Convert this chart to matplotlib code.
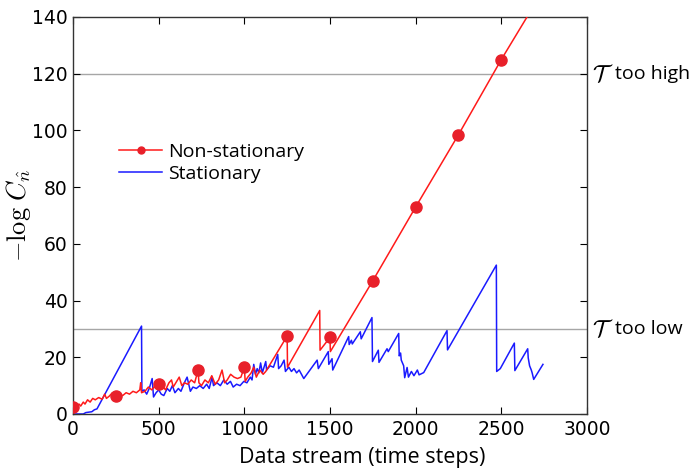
import numpy as np
import matplotlib
matplotlib.use("Agg")
import matplotlib.pyplot as plt

# ---- data ----
red_t = [0, 5, 20, 35, 45, 60, 70, 85, 100, 115, 130, 150, 170, 185, 195, 210, 230, 250,
         270, 290, 310, 330, 350, 370, 390, 395, 400, 420, 440, 460, 480, 500, 505, 520,
         540, 560, 575, 585, 600, 620, 635, 650, 670, 690, 710, 730, 735, 750, 770, 790,
         810, 830, 850, 870, 885, 900, 920, 940, 960, 980, 1000, 1005, 1020, 1040, 1055,
         1070, 1090, 1110, 1125, 1250, 1252, 1440, 1442, 1500, 1502, 1750, 2000, 2250,
         2500, 2660]
red_v = [2.5, 1.5, 2.5, 3.5, 2.8, 4.2, 3.5, 5.0, 4.2, 5.5, 5.0, 5.8, 5.2, 7.0, 5.5, 6.2, 7.5, 6.5,
         7.0, 6.5, 7.5, 7.0, 8.0, 7.5, 8.5, 11.0, 7.5, 8.0, 9.5, 8.5, 10.0, 10.5, 9.0, 10.0,
         8.5, 11.0, 12.0, 9.5, 11.0, 13.0, 10.0, 11.0, 10.5, 12.0, 11.0, 15.5, 11.0, 10.0, 12.0, 11.0,
         13.5, 10.5, 12.0, 15.5, 11.0, 12.0, 14.0, 13.0, 12.5, 13.0, 16.5, 11.5, 13.0, 14.5, 16.5,
         13.0, 15.5, 14.0, 15.0, 27.5, 16.5, 36.5, 22.5, 27.0, 22.0, 47.0, 73.0, 98.5,
         125.0, 141.0]
marker_t = [0, 250, 500, 730, 1000, 1250, 1500, 1750, 2000, 2250, 2500]

blue_t = [0, 60, 75, 110, 125, 140, 400, 402, 415, 430, 445, 462, 470, 485, 500, 515, 530,
          550, 565, 580, 595, 615, 630, 650, 666, 685, 700, 720, 740, 760, 780, 795, 812,
          820, 840, 860, 880, 900, 919, 935, 955, 975, 997, 1015, 1035, 1045, 1055, 1065,
          1075, 1085, 1095, 1105, 1125, 1130, 1150, 1170, 1195, 1200, 1215, 1232, 1240,
          1260, 1275, 1290, 1305, 1320, 1347, 1425, 1432, 1490, 1493, 1512, 1516, 1609,
          1612, 1625, 1630, 1677, 1682, 1745, 1748, 1782, 1786, 1833, 1840, 1901, 1904,
          1912, 1916, 1930, 1936, 1950, 1958, 1975, 1990, 2010, 2020, 2047, 2183, 2186,
          2471, 2473, 2494, 2576, 2579, 2654, 2657, 2665, 2675, 2680, 2689, 2743]
blue_v = [0.0, 0.0, 0.5, 0.8, 1.5, 1.8, 31.0, 8.0, 8.5, 7.0, 9.0, 12.5, 6.0, 7.5, 8.5, 7.0, 6.5,
          9.0, 8.0, 10.0, 7.5, 9.0, 8.0, 11.0, 13.0, 8.0, 9.5, 9.0, 10.0, 9.0, 10.5, 9.0, 13.0,
          10.0, 11.0, 10.0, 12.0, 10.5, 11.5, 9.5, 10.5, 10.0, 11.5, 11.0, 13.0, 12.0, 17.5, 14.0,
          16.0, 14.5, 18.0, 14.5, 18.5, 15.5, 17.0, 16.5, 21.0, 16.0, 17.0, 19.0, 15.0,
          16.5, 15.0, 16.0, 14.5, 15.5, 12.5, 19.0, 16.0, 22.0, 17.5, 19.5, 15.5, 27.3,
          24.5, 26.0, 24.7, 29.0, 26.5, 34.0, 18.5, 22.5, 18.2, 23.0, 22.0, 28.4, 20.5,
          21.5, 19.0, 17.0, 12.8, 16.4, 13.0, 15.0, 13.5, 15.5, 13.8, 14.6, 29.4, 22.6,
          52.5, 15.0, 16.0, 25.0, 15.3, 23.0, 19.8, 17.0, 15.5, 14.5, 12.2, 17.5]

thresholds = [120, 30]
threshold_words = ["too high", "too low"]

# ---- figure ----
plt.rcParams['mathtext.fontset'] = 'cm'
fig = plt.figure(figsize=(6.9, 4.72), dpi=100)
ax = fig.add_axes([0.1058, 0.1229, 0.7449, 0.8411])

for th in thresholds:
    ax.axhline(th, color='#a6a6a6', lw=1.0, zorder=1)

red_t_arr = np.array(red_t)
mk_idx = [int(np.argmin(np.abs(red_t_arr - m))) for m in marker_t]

ax.plot(red_t, red_v, color='#ff1a1a', lw=1.1, marker='o', markersize=8,
        markevery=mk_idx, markerfacecolor='#e8202a', markeredgecolor='#e8202a',
        label='Non-stationary', zorder=3)
ax.plot(blue_t, blue_v, color='#1a1aff', lw=1.1, label='Stationary', zorder=2)

ax.set_xlim(0, 3000)
ax.set_ylim(0, 140)
ax.set_xticks([0, 500, 1000, 1500, 2000, 2500, 3000])
ax.set_yticks([0, 20, 40, 60, 80, 100, 120, 140])
ax.tick_params(direction='in', top=True, right=True, length=5, width=0.8,
               labelsize=13.5, pad=4)
for sp in ax.spines.values():
    sp.set_color('#333333')
    sp.set_linewidth(1.0)

ax.set_xlabel('Data stream (time steps)', fontsize=15.5, family='Open Sans')
ax.xaxis.set_label_coords(0.562, -0.082)
ax.set_ylabel(r'$-\log\,C_{\hat{n}}$', fontsize=19)
ax.yaxis.set_label_coords(-0.078, 0.5)

for th, word in zip(thresholds, threshold_words):
    ax.text(1.01, th, r"$\mathcal{T}$", transform=ax.get_yaxis_transform(), fontsize=17,
            va='center', ha='left')
    ax.text(1.055, th, word, transform=ax.get_yaxis_transform(), fontsize=14,
            family='Open Sans', va='center', ha='left')

leg = ax.legend(loc='upper left', bbox_to_anchor=(0.09, 0.682), frameon=False,
                prop={'family': 'Open Sans', 'size': 14}, borderaxespad=0, borderpad=0,
                handlelength=2.2, handletextpad=0.3, labelspacing=0.2,
                numpoints=1)
leg.legend_handles[0].set_markersize(5)

fig.savefig('out.png', dpi=100)
